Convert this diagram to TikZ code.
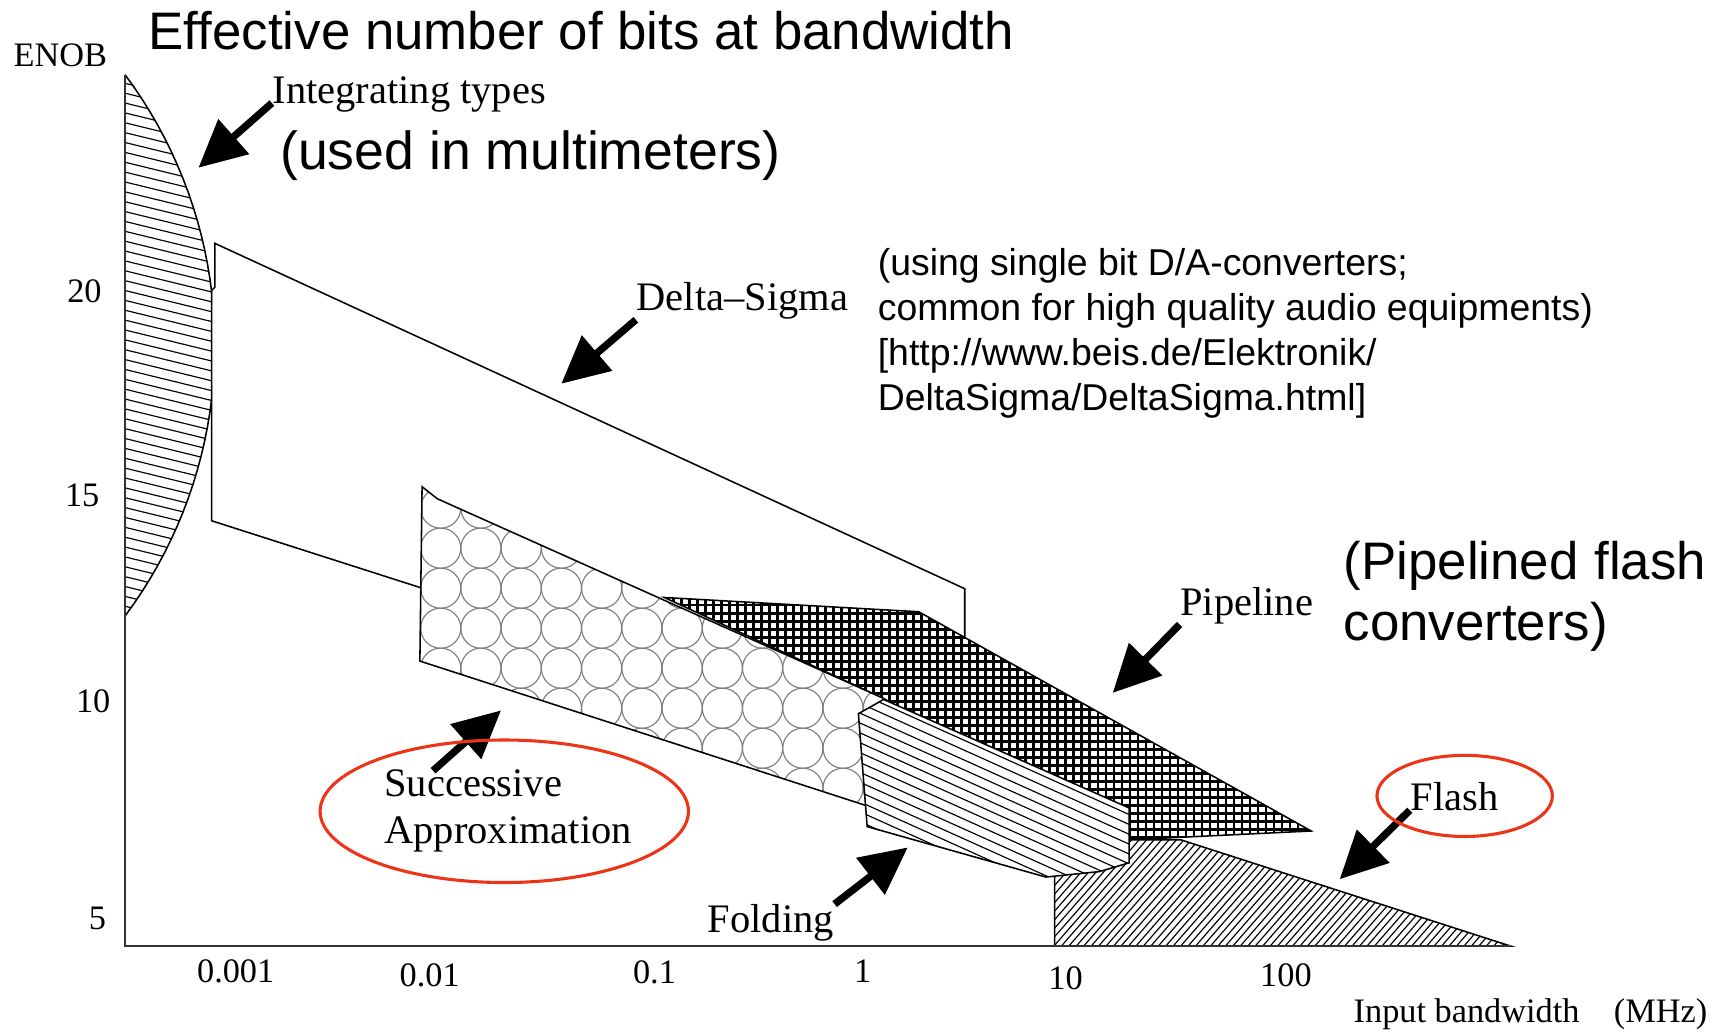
\documentclass[tikz,border=0pt]{standalone}
\usepackage{fontspec}
\setmainfont{Liberation Serif}
\newfontfamily\arialfont{Liberation Sans}
\usepackage{xcolor}
\definecolor{ringred}{RGB}{238,52,24}
\usetikzlibrary{arrows.meta}

\begin{document}
\begin{tikzpicture}[x = 0.01cm, y = -0.01cm,
        outline/.style = {line width = 0.4pt},
        hatch/.style = {line width = 0.3pt},
        fatarrow/.style = {line width = 1.9pt, -{Triangle[length = 4.3mm, width = 4.1mm]}},
        redring/.style = {draw = ringred, line width = 0.8pt},
        axislabel/.style = {font = \fontsize{8.9}{10}\selectfont, inner sep = 0pt},
        kind/.style = {font = \fontsize{10.5}{12.2}\selectfont, inner sep = 0pt, align = left},
        remark/.style = {font = \arialfont\fontsize{13.7}{15.9}\selectfont, inner sep = 0pt, align = left},
        smallremark/.style = {font = \arialfont\fontsize{9.7}{11.7}\selectfont, inner sep = 0pt, align = left}]
    \useasboundingbox (0,0) rectangle (1568,942);

    % delta-sigma, outline only
    \draw [outline] (193,475) -- (193,265) -- (196,262) -- (196,222) -- (880,537) -- (880,695) -- cycle;

    % integrating types, cut off by the delta-sigma edge
    \begin{scope}
        \clip (0,0) rectangle (193.5,942);
        \begin{scope}
            \clip plot [domain = 36.7:-36.7, samples = 40] ({-217+413*cos(\x)}, {315-413*sin(\x)}) -- cycle;
            \foreach \y in {30,39,...,570}
                \draw [hatch] (110,\y) -- (200,\y+22);
        \end{scope}
        \draw [outline] plot [domain = 36.7:-36.7, samples = 40] ({-217+413*cos(\x)}, {315-413*sin(\x)});
    \end{scope}

    % successive approximation
    \begin{scope}
        \clip (385,444) -- (399,455) -- (806,637) -- (800,738) -- (383,603) -- cycle;
        \fill [white] (300,400) rectangle (900,800);
        \foreach \i in {0,...,13}
            \foreach \j in {0,...,9}
                \draw [gray, line width = 0.3pt] ({365.3+36.7*\i}, {427+36.5*\j}) circle (18.3);
    \end{scope}
    \draw [outline] (385,444) -- (399,455) -- (806,637) -- (800,738) -- (383,603) -- cycle;

    % pipeline
    \begin{scope}
        \clip (606,545) -- (838,558) -- (1196,758) -- (1030,766) -- (806,637) -- cycle;
        \fill [white] (600,530) rectangle (1210,780);
        \foreach \gx in {600,607.3,...,1210}
            \draw [line width = 0.75pt] (\gx,530) -- (\gx,780);
        \foreach \gy in {530,537.3,...,780}
            \draw [line width = 0.75pt] (600,\gy) -- (1210,\gy);
    \end{scope}
    \draw [outline] (606,545) -- (838,558) -- (1196,758) -- (1030,766) -- (806,637) -- cycle;

    % flash
    \begin{scope}
        \clip (962,863) -- (962,797) -- (1003,792) -- (1030,784) -- (1030,766) -- (1077,766) -- (1378,863) -- cycle;
        \fill [white] (950,760) rectangle (1390,870);
        \foreach \fx in {860,866.8,...,1390}
            \draw [hatch] (\fx,870) -- (\fx+96,760);
    \end{scope}
    \draw [outline] (962,863) -- (962,797) -- (1003,792) -- (1030,784) -- (1030,766) -- (1077,766) -- (1378,863) -- cycle;

    % folding
    \begin{scope}
        \clip (783,651) -- (806,638) -- (1030,737) -- (1030,787) -- (1003,795) -- (954,800) -- (791,754) -- cycle;
        \fill [white] (770,630) rectangle (1040,810);
        \foreach \k in {500,509,...,820}
            \draw [hatch] (770,\k) -- (1040,\k+121.5);
    \end{scope}
    \draw [outline] (783,651) -- (806,638) -- (1030,737) -- (1030,787) -- (1003,795) -- (954,800) -- (791,754) -- cycle;

    % axes
    \draw [line width = 0.5pt, black!80] (114,68) -- (114,863) -- (1378,863);
    \node [axislabel] (enob) at (55,50) {ENOB};
    \foreach \v/\px/\py in {20/77/266, 15/75/452, 10/85/640, 5/89/838}
        \node [axislabel] (ytick\v) at (\px,\py) {\v};
    \foreach \v/\px/\py [count = \i] in {0.001/215/886, 0.01/392/890, 0.1/597/887, 1/787/886, 10/972/892, 100/1173/890}
        \node [axislabel] (xtick\i) at (\px,\py) {\v};
    \node [axislabel] (xname) at (1396,925) {Input bandwidth\quad(MHz)};

    % texts
    \node [remark, anchor = base west] (title) at (135,45) {Effective number of bits at bandwidth};
    \node [remark, anchor = base west, font = \arialfont\fontsize{13.9}{16}\selectfont] (intnote) at (255,155) {(used in multimeters)};
    \node [smallremark, anchor = north west] (dsnote) at (800,226)
        {(using single bit D/A-converters;\\common for high quality audio equipments)\\{}[http://www.beis.de/Elektronik/\\DeltaSigma/DeltaSigma.html]};
    \node [remark, anchor = north west] (pipenote) at (1225,493) {(Pipelined\hspace{0.3em}flash\\converters)};

    % converter kinds
    \node [kind, anchor = base west] (intlab) at (248,94) {Integrating types};
    \node [kind, anchor = base west] (dslab) at (580,283) {Delta--Sigma};
    \node [kind, anchor = base west] (pipelab) at (1076,561) {Pipeline};
    \node [kind, anchor = north west] (sarlab) at (350,701) {Successive\\Approximation};
    \node [kind, anchor = base west] (foldlab) at (645,851) {Folding};
    \node [kind, anchor = base west] (flashlab) at (1286,739) {Flash};

    \coordinate (intTip) at (181,153);
    \coordinate (dsTip) at (512,350);
    \coordinate (pipeTip) at (1015,632);
    \coordinate (sarTail) at (395,703);
    \coordinate (sarTip) at (457,648);
    \coordinate (foldTip) at (828,773);
    \coordinate (flashTip) at (1222,802);

    \draw [fatarrow] (intlab.base west) -- (intTip);
    \draw [fatarrow] (dslab.south west) -- (dsTip);
    \draw [fatarrow] (pipelab.south west) -- (pipeTip);
    \draw [fatarrow] (sarTail) -- (sarTip);
    \draw [fatarrow] (foldlab.north east) -- (foldTip);
    \draw [fatarrow] (flashlab.base west) -- (flashTip);

    % rings
    \draw [redring] (460,740) ellipse (168 and 65);
    \draw [redring] (1336,726) ellipse (80 and 37);
\end{tikzpicture}
\end{document}
